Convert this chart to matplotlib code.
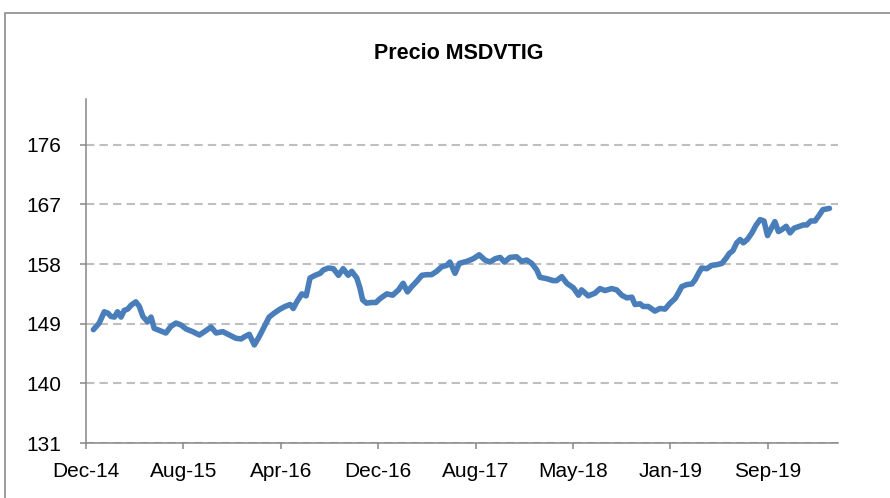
"""Precio MSDVTIG line chart -> out.png"""

from datetime import datetime

import matplotlib
matplotlib.use("Agg")
import matplotlib.pyplot as plt
from matplotlib.patches import Rectangle

TITLE = "Precio MSDVTIG"

dates = [
    "2014-12-20", "2015-01-04", "2015-01-17", "2015-01-26", "2015-02-03", "2015-02-12", "2015-02-20", "2015-03-01", "2015-03-09", "2015-03-18",
    "2015-03-27", "2015-04-08", "2015-04-17", "2015-04-26", "2015-05-08", "2015-05-17", "2015-05-25", "2015-06-07", "2015-06-24", "2015-07-07",
    "2015-07-20", "2015-08-02", "2015-08-15", "2015-09-01", "2015-09-18", "2015-10-01", "2015-10-18", "2015-10-31", "2015-11-17", "2015-12-04",
    "2015-12-21", "2016-01-03", "2016-01-11", "2016-01-24", "2016-02-06", "2016-02-19", "2016-03-03", "2016-03-15", "2016-03-28", "2016-04-12",
    "2016-04-25", "2016-05-08", "2016-05-16", "2016-05-25", "2016-06-07", "2016-06-18", "2016-06-28", "2016-07-11", "2016-07-24", "2016-08-01",
    "2016-08-14", "2016-08-27", "2016-09-09", "2016-09-21", "2016-10-04", "2016-10-13", "2016-10-26", "2016-11-03", "2016-11-10", "2016-11-20",
    "2016-12-03", "2016-12-14", "2016-12-25", "2017-01-11", "2017-01-26", "2017-02-10", "2017-02-22", "2017-03-05", "2017-03-16", "2017-03-29",
    "2017-04-11", "2017-04-23", "2017-05-06", "2017-05-19", "2017-06-01", "2017-06-14", "2017-06-22", "2017-07-05", "2017-07-16", "2017-08-04",
    "2017-08-21", "2017-09-05", "2017-09-20", "2017-10-03", "2017-10-16", "2017-10-29", "2017-11-09", "2017-11-23", "2017-12-10", "2017-12-23",
    "2018-01-05", "2018-01-18", "2018-01-31", "2018-02-08", "2018-02-25", "2018-03-14", "2018-03-23", "2018-04-05", "2018-04-18", "2018-05-05",
    "2018-05-18", "2018-05-26", "2018-06-12", "2018-06-29", "2018-07-12", "2018-07-25", "2018-08-11", "2018-08-24", "2018-09-06", "2018-09-19",
    "2018-10-02", "2018-10-10", "2018-10-23", "2018-10-31", "2018-11-13", "2018-11-30", "2018-12-13", "2018-12-26", "2019-01-08", "2019-01-21",
    "2019-01-29", "2019-02-07", "2019-02-20", "2019-03-05", "2019-03-13", "2019-03-22", "2019-03-30", "2019-04-12", "2019-04-25", "2019-05-08",
    "2019-05-21", "2019-06-01", "2019-06-09", "2019-06-18", "2019-06-28", "2019-07-07", "2019-07-15", "2019-07-25", "2019-08-06", "2019-08-17",
    "2019-08-27", "2019-09-06", "2019-09-15", "2019-09-23", "2019-10-04", "2019-10-13", "2019-10-22", "2019-11-02", "2019-11-12", "2019-11-22",
    "2019-12-06", "2019-12-16", "2019-12-25", "2020-01-04", "2020-01-15", "2020-01-26", "2020-02-04", "2020-02-12", "2020-02-21",
]

prices = [
    148.1, 149.1, 150.8, 150.6, 150.1, 150.0, 150.8, 150.0, 151.0, 151.2,
    151.8, 152.3, 151.6, 150.1, 149.3, 150.0, 148.3, 148.0, 147.6, 148.6,
    149.1, 148.8, 148.2, 147.8, 147.3, 147.8, 148.5, 147.6, 147.8, 147.3,
    146.8, 146.7, 147.0, 147.4, 145.8, 147.1, 148.6, 150.0, 150.6, 151.2,
    151.6, 151.9, 151.3, 152.3, 153.5, 153.2, 155.9, 156.3, 156.6, 157.1,
    157.4, 157.3, 156.3, 157.3, 156.3, 156.9, 155.9, 154.4, 152.6, 152.1,
    152.2, 152.2, 152.8, 153.5, 153.3, 154.1, 155.1, 153.8, 154.6, 155.4,
    156.3, 156.4, 156.4, 156.9, 157.6, 157.8, 158.3, 156.6, 158.1, 158.4,
    158.8, 159.4, 158.6, 158.3, 158.8, 159.0, 158.3, 159.0, 159.1, 158.4,
    158.6, 158.1, 157.1, 156.0, 155.8, 155.5, 155.5, 156.1, 155.1, 154.4,
    153.3, 154.1, 153.2, 153.6, 154.3, 154.0, 154.3, 154.1, 153.3, 152.9,
    153.0, 151.9, 152.0, 151.6, 151.6, 150.9, 151.3, 151.2, 152.1, 152.8,
    153.6, 154.6, 154.9, 155.0, 155.6, 156.6, 157.4, 157.3, 157.8, 157.9,
    158.1, 158.9, 159.6, 160.0, 161.2, 161.7, 161.2, 161.7, 162.7, 163.9,
    164.7, 164.5, 162.3, 163.2, 164.4, 162.9, 163.2, 163.7, 162.7, 163.4,
    163.7, 163.9, 163.9, 164.5, 164.5, 165.4, 166.2, 166.3, 166.4,
]

tick_dates = ["2014-12-01", "2015-08-08", "2016-04-14", "2016-12-20",
              "2017-08-27", "2018-05-04", "2019-01-09", "2019-09-16"]
tick_labels = ["Dec-14", "Aug-15", "Apr-16", "Dec-16", "Aug-17", "May-18", "Jan-19", "Sep-19"]
y_ticks = [131, 140, 149, 158, 167, 176]

LINE = "#4A7EBB"
GRID = "#BFBFBF"
AXIS = "#868686"


def to_dt(s):
    return datetime.strptime(s, "%Y-%m-%d")


def main() -> None:
    plt.rcParams["font.family"] = ["Liberation Sans", "DejaVu Sans"]

    fig = plt.figure(figsize=(8.9, 4.98), dpi=100, facecolor="white")
    ax = fig.add_axes([0.0966, 0.1104, 0.845, 0.6908])

    # chart-area frame (runs off the right and bottom edges)
    fig.patches.append(Rectangle((0.0056, -0.2), 1.2, 1.174, transform=fig.transFigure,
                                 fill=False, edgecolor="#8C8C8C", linewidth=1.2))

    x = [to_dt(d) for d in dates]
    ax.plot(x, prices, color=LINE, linewidth=4.0, solid_joinstyle="round", solid_capstyle="round", zorder=3)

    ax.set_xlim(to_dt("2014-12-01"), to_dt("2020-03-14"))
    ax.set_ylim(131, 182.9)

    ax.set_xticks([to_dt(d) for d in tick_dates])
    ax.set_xticklabels(tick_labels)
    ax.set_yticks(y_ticks)
    ax.set_yticklabels([str(v) for v in y_ticks])

    ax.yaxis.grid(True, color=GRID, linewidth=1.5, linestyle=(0, (4, 2.5)))
    ax.set_axisbelow(True)

    for side in ("top", "right"):
        ax.spines[side].set_visible(False)
    for side in ("left", "bottom"):
        ax.spines[side].set_color(AXIS)
        ax.spines[side].set_linewidth(1.1)

    ax.tick_params(axis="y", direction="out", length=4.5, width=1.1, color=AXIS,
                   pad=13, labelsize=15, labelcolor="black")
    ax.tick_params(axis="x", direction="out", length=4.5, width=1.1, color=AXIS,
                   pad=9, labelsize=15, labelcolor="black")

    fig.text(0.515, 0.893, TITLE, ha="center", va="center", fontsize=15.5,
             fontweight="bold", color="black")

    fig.savefig("out.png", dpi=100, facecolor=fig.get_facecolor())
    plt.close(fig)


if __name__ == "__main__":
    main()
